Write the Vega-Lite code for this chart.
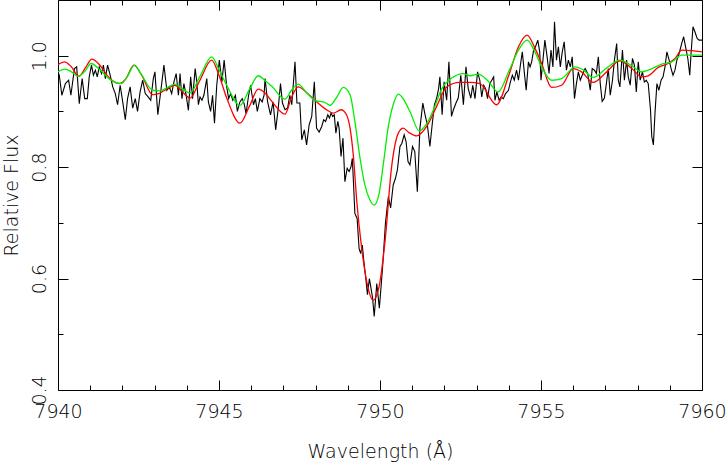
{
  "$schema": "https://vega.github.io/schema/vega-lite/v6.json",
  "width": 644,
  "height": 390,
  "autosize": "none",
  "padding": {"left": 58, "top": 0, "right": 25, "bottom": 72},
  "background": "white",
  "config": {
    "view": {"stroke": "#000", "strokeWidth": 1},
    "axis": {"grid": false, "labelFont": "DejaVu Sans", "labelFontSize": 19, "labelFontWeight": 200, "labelColor": "#000", "titleFont": "DejaVu Sans", "titleFontSize": 19, "titleFontWeight": 200, "titleColor": "#000", "tickColor": "#000", "tickWidth": 1}
  },
  "datasets": {
    "obs": [
      {"w":7940.00,"f":0.970},{"w":7940.04,"f":0.965},{"w":7940.12,"f":0.929},{"w":7940.23,"f":0.950},{"w":7940.33,"f":0.956},{"w":7940.40,"f":0.929},{"w":7940.51,"f":0.977},{"w":7940.58,"f":0.980},{"w":7940.66,"f":0.914},{"w":7940.75,"f":0.959},{"w":7940.83,"f":0.923},{"w":7940.91,"f":0.923},{"w":7940.97,"f":0.962},{"w":7941.04,"f":0.983},{"w":7941.10,"f":0.965},{"w":7941.16,"f":0.974},{"w":7941.22,"f":0.962},{"w":7941.28,"f":0.980},{"w":7941.35,"f":0.968},{"w":7941.41,"f":0.983},{"w":7941.47,"f":0.959},{"w":7941.54,"f":0.983},{"w":7941.62,"f":0.965},{"w":7941.70,"f":0.944},{"w":7941.78,"f":0.932},{"w":7941.85,"f":0.912},{"w":7941.93,"f":0.947},{"w":7942.01,"f":0.917},{"w":7942.09,"f":0.885},{"w":7942.16,"f":0.923},{"w":7942.24,"f":0.944},{"w":7942.32,"f":0.906},{"w":7942.40,"f":0.923},{"w":7942.47,"f":0.900},{"w":7942.55,"f":0.935},{"w":7942.63,"f":0.956},{"w":7942.71,"f":0.932},{"w":7942.80,"f":0.926},{"w":7942.88,"f":0.920},{"w":7942.96,"f":0.959},{"w":7943.01,"f":0.971},{"w":7943.10,"f":0.894},{"w":7943.20,"f":0.940},{"w":7943.29,"f":0.983},{"w":7943.38,"f":0.938},{"w":7943.46,"f":0.944},{"w":7943.53,"f":0.932},{"w":7943.60,"f":0.953},{"w":7943.67,"f":0.968},{"w":7943.74,"f":0.929},{"w":7943.79,"f":0.968},{"w":7943.85,"f":0.923},{"w":7943.91,"f":0.950},{"w":7943.98,"f":0.929},{"w":7944.05,"f":0.902},{"w":7944.12,"f":0.962},{"w":7944.18,"f":0.923},{"w":7944.26,"f":0.977},{"w":7944.31,"f":0.953},{"w":7944.36,"f":0.912},{"w":7944.41,"f":0.926},{"w":7944.47,"f":0.920},{"w":7944.53,"f":0.929},{"w":7944.62,"f":0.959},{"w":7944.67,"f":0.917},{"w":7944.74,"f":0.900},{"w":7944.80,"f":0.929},{"w":7944.86,"f":0.879},{"w":7944.93,"f":0.947},{"w":7945.01,"f":0.992},{"w":7945.09,"f":0.953},{"w":7945.16,"f":0.992},{"w":7945.24,"f":0.944},{"w":7945.30,"f":0.923},{"w":7945.36,"f":0.932},{"w":7945.43,"f":0.920},{"w":7945.51,"f":0.929},{"w":7945.57,"f":0.900},{"w":7945.65,"f":0.917},{"w":7945.72,"f":0.923},{"w":7945.78,"f":0.914},{"w":7945.84,"f":0.896},{"w":7945.92,"f":0.929},{"w":7945.98,"f":0.947},{"w":7946.07,"f":0.912},{"w":7946.13,"f":0.923},{"w":7946.19,"f":0.900},{"w":7946.27,"f":0.923},{"w":7946.34,"f":0.917},{"w":7946.40,"f":0.929},{"w":7946.43,"f":0.959},{"w":7946.51,"f":0.917},{"w":7946.60,"f":0.894},{"w":7946.68,"f":0.917},{"w":7946.76,"f":0.867},{"w":7946.84,"f":0.906},{"w":7946.91,"f":0.950},{"w":7946.97,"f":0.915},{"w":7947.05,"f":0.903},{"w":7947.13,"f":0.906},{"w":7947.20,"f":0.929},{"w":7947.26,"f":0.912},{"w":7947.36,"f":0.989},{"w":7947.42,"f":0.915},{"w":7947.51,"f":0.915},{"w":7947.57,"f":0.849},{"w":7947.65,"f":0.867},{"w":7947.72,"f":0.840},{"w":7947.80,"f":0.876},{"w":7947.88,"f":0.891},{"w":7947.96,"f":0.953},{"w":7948.03,"f":0.870},{"w":7948.11,"f":0.863},{"w":7948.19,"f":0.873},{"w":7948.25,"f":0.885},{"w":7948.31,"f":0.882},{"w":7948.38,"f":0.894},{"w":7948.43,"f":0.888},{"w":7948.48,"f":0.897},{"w":7948.53,"f":0.891},{"w":7948.58,"f":0.894},{"w":7948.63,"f":0.861},{"w":7948.69,"f":0.882},{"w":7948.73,"f":0.870},{"w":7948.79,"f":0.819},{"w":7948.85,"f":0.852},{"w":7948.91,"f":0.774},{"w":7948.98,"f":0.798},{"w":7949.04,"f":0.792},{"w":7949.10,"f":0.801},{"w":7949.14,"f":0.816},{"w":7949.18,"f":0.768},{"w":7949.22,"f":0.717},{"w":7949.29,"f":0.708},{"w":7949.35,"f":0.654},{"w":7949.40,"f":0.645},{"w":7949.45,"f":0.660},{"w":7949.50,"f":0.630},{"w":7949.56,"f":0.600},{"w":7949.61,"f":0.571},{"w":7949.67,"f":0.600},{"w":7949.72,"f":0.583},{"w":7949.77,"f":0.565},{"w":7949.82,"f":0.532},{"w":7949.90,"f":0.591},{"w":7949.98,"f":0.547},{"w":7950.08,"f":0.620},{"w":7950.17,"f":0.700},{"w":7950.26,"f":0.747},{"w":7950.33,"f":0.727},{"w":7950.41,"f":0.768},{"w":7950.48,"f":0.780},{"w":7950.54,"f":0.795},{"w":7950.62,"f":0.837},{"w":7950.68,"f":0.843},{"w":7950.75,"f":0.858},{"w":7950.81,"f":0.846},{"w":7950.87,"f":0.810},{"w":7950.93,"f":0.804},{"w":7951.01,"f":0.837},{"w":7951.08,"f":0.828},{"w":7951.16,"f":0.756},{"w":7951.24,"f":0.870},{"w":7951.33,"f":0.915},{"w":7951.40,"f":0.894},{"w":7951.47,"f":0.876},{"w":7951.55,"f":0.837},{"w":7951.62,"f":0.876},{"w":7951.69,"f":0.912},{"w":7951.76,"f":0.924},{"w":7951.82,"f":0.941},{"w":7951.86,"f":0.962},{"w":7951.93,"f":0.894},{"w":7951.99,"f":0.953},{"w":7952.07,"f":0.920},{"w":7952.14,"f":0.989},{"w":7952.22,"f":0.891},{"w":7952.28,"f":0.903},{"w":7952.36,"f":0.915},{"w":7952.43,"f":0.924},{"w":7952.51,"f":0.965},{"w":7952.59,"f":0.912},{"w":7952.67,"f":0.980},{"w":7952.74,"f":0.941},{"w":7952.82,"f":0.924},{"w":7952.88,"f":0.947},{"w":7952.95,"f":0.923},{"w":7953.03,"f":0.971},{"w":7953.10,"f":0.956},{"w":7953.16,"f":0.926},{"w":7953.22,"f":0.947},{"w":7953.28,"f":0.941},{"w":7953.34,"f":0.923},{"w":7953.41,"f":0.950},{"w":7953.47,"f":0.956},{"w":7953.53,"f":0.962},{"w":7953.57,"f":0.920},{"w":7953.63,"f":0.935},{"w":7953.70,"f":0.920},{"w":7953.76,"f":0.926},{"w":7953.83,"f":0.923},{"w":7953.90,"f":0.932},{"w":7953.99,"f":0.938},{"w":7954.05,"f":0.953},{"w":7954.11,"f":0.965},{"w":7954.17,"f":0.956},{"w":7954.24,"f":0.974},{"w":7954.30,"f":0.956},{"w":7954.36,"f":0.983},{"w":7954.42,"f":1.007},{"w":7954.48,"f":0.971},{"w":7954.54,"f":0.938},{"w":7954.61,"f":0.989},{"w":7954.66,"f":0.980},{"w":7954.71,"f":0.989},{"w":7954.77,"f":1.010},{"w":7954.83,"f":1.016},{"w":7954.90,"f":1.028},{"w":7954.96,"f":1.007},{"w":7955.00,"f":0.956},{"w":7955.06,"f":0.992},{"w":7955.12,"f":1.028},{"w":7955.19,"f":0.998},{"w":7955.25,"f":0.968},{"w":7955.31,"f":1.010},{"w":7955.37,"f":0.980},{"w":7955.42,"f":1.061},{"w":7955.48,"f":0.992},{"w":7955.54,"f":1.016},{"w":7955.60,"f":0.980},{"w":7955.66,"f":1.007},{"w":7955.72,"f":1.025},{"w":7955.79,"f":0.974},{"w":7955.85,"f":0.992},{"w":7955.91,"f":0.980},{"w":7955.97,"f":0.998},{"w":7956.04,"f":0.923},{"w":7956.10,"f":0.950},{"w":7956.16,"f":0.971},{"w":7956.22,"f":0.956},{"w":7956.28,"f":0.965},{"w":7956.37,"f":0.977},{"w":7956.45,"f":0.968},{"w":7956.53,"f":0.938},{"w":7956.59,"f":0.977},{"w":7956.66,"f":0.974},{"w":7956.72,"f":0.968},{"w":7956.78,"f":0.998},{"w":7956.84,"f":0.950},{"w":7956.90,"f":0.918},{"w":7956.97,"f":0.924},{"w":7957.03,"f":0.950},{"w":7957.09,"f":0.977},{"w":7957.15,"f":0.929},{"w":7957.22,"f":0.956},{"w":7957.28,"f":0.992},{"w":7957.35,"f":1.022},{"w":7957.40,"f":0.956},{"w":7957.45,"f":0.944},{"w":7957.53,"f":1.010},{"w":7957.59,"f":0.956},{"w":7957.66,"f":0.992},{"w":7957.71,"f":0.962},{"w":7957.77,"f":0.947},{"w":7957.84,"f":0.995},{"w":7957.90,"f":0.983},{"w":7957.96,"f":0.935},{"w":7958.02,"f":0.989},{"w":7958.08,"f":0.956},{"w":7958.15,"f":0.971},{"w":7958.21,"f":0.953},{"w":7958.27,"f":0.956},{"w":7958.33,"f":0.950},{"w":7958.40,"f":0.903},{"w":7958.44,"f":0.855},{"w":7958.49,"f":0.840},{"w":7958.54,"f":0.897},{"w":7958.60,"f":0.950},{"w":7958.66,"f":0.938},{"w":7958.73,"f":0.956},{"w":7958.79,"f":0.962},{"w":7958.85,"f":0.980},{"w":7958.91,"f":1.007},{"w":7958.98,"f":0.992},{"w":7959.04,"f":0.977},{"w":7959.10,"f":0.965},{"w":7959.16,"f":0.974},{"w":7959.22,"f":0.992},{"w":7959.29,"f":1.004},{"w":7959.37,"f":1.022},{"w":7959.43,"f":1.034},{"w":7959.49,"f":1.016},{"w":7959.56,"f":0.995},{"w":7959.62,"f":0.965},{"w":7959.66,"f":1.004},{"w":7959.72,"f":1.052},{"w":7959.78,"f":1.043},{"w":7959.85,"f":1.031},{"w":7959.91,"f":1.028},{"w":7960.00,"f":1.028}
    ],
    "red": [
      {"w":7940.00,"f":0.984},{"w":7940.20,"f":0.989},{"w":7940.40,"f":0.981},{"w":7940.65,"f":0.963},{"w":7940.85,"f":0.978},{"w":7941.05,"f":0.994},{"w":7941.30,"f":0.983},{"w":7941.55,"f":0.963},{"w":7941.90,"f":0.950},{"w":7942.10,"f":0.958},{"w":7942.36,"f":0.983},{"w":7942.60,"f":0.965},{"w":7942.94,"f":0.930},{"w":7943.17,"f":0.933},{"w":7943.40,"f":0.941},{"w":7943.63,"f":0.947},{"w":7943.85,"f":0.936},{"w":7944.10,"f":0.924},{"w":7944.40,"f":0.955},{"w":7944.77,"f":0.992},{"w":7945.00,"f":0.965},{"w":7945.24,"f":0.924},{"w":7945.65,"f":0.879},{"w":7945.95,"f":0.910},{"w":7946.22,"f":0.940},{"w":7946.43,"f":0.933},{"w":7946.64,"f":0.918},{"w":7947.05,"f":0.895},{"w":7947.25,"f":0.925},{"w":7947.46,"f":0.944},{"w":7947.70,"f":0.935},{"w":7947.98,"f":0.920},{"w":7948.34,"f":0.903},{"w":7948.55,"f":0.897},{"w":7948.79,"f":0.903},{"w":7948.95,"f":0.895},{"w":7949.07,"f":0.870},{"w":7949.17,"f":0.822},{"w":7949.28,"f":0.738},{"w":7949.43,"f":0.655},{"w":7949.59,"f":0.594},{"w":7949.79,"f":0.561},{"w":7949.97,"f":0.585},{"w":7950.16,"f":0.669},{"w":7950.36,"f":0.800},{"w":7950.57,"f":0.861},{"w":7950.72,"f":0.870},{"w":7950.90,"f":0.862},{"w":7951.14,"f":0.856},{"w":7951.45,"f":0.873},{"w":7951.76,"f":0.909},{"w":7952.07,"f":0.944},{"w":7952.48,"f":0.952},{"w":7952.80,"f":0.952},{"w":7953.10,"f":0.950},{"w":7953.62,"f":0.912},{"w":7954.00,"f":0.965},{"w":7954.30,"f":1.016},{"w":7954.57,"f":1.037},{"w":7954.80,"f":1.015},{"w":7955.02,"f":0.986},{"w":7955.33,"f":0.943},{"w":7955.64,"f":0.947},{"w":7956.00,"f":0.977},{"w":7956.26,"f":0.971},{"w":7956.62,"f":0.952},{"w":7957.04,"f":0.971},{"w":7957.45,"f":0.991},{"w":7957.82,"f":0.977},{"w":7958.13,"f":0.962},{"w":7958.33,"f":0.964},{"w":7958.64,"f":0.979},{"w":7958.95,"f":0.986},{"w":7959.16,"f":0.995},{"w":7959.37,"f":1.010},{"w":7959.68,"f":1.009},{"w":7960.00,"f":1.007}
    ],
    "green": [
      {"w":7940.00,"f":0.971},{"w":7940.20,"f":0.976},{"w":7940.40,"f":0.972},{"w":7940.62,"f":0.963},{"w":7940.85,"f":0.973},{"w":7941.02,"f":0.986},{"w":7941.30,"f":0.975},{"w":7941.60,"f":0.958},{"w":7941.96,"f":0.950},{"w":7942.15,"f":0.962},{"w":7942.37,"f":0.983},{"w":7942.60,"f":0.965},{"w":7942.94,"f":0.938},{"w":7943.17,"f":0.937},{"w":7943.40,"f":0.943},{"w":7943.63,"f":0.949},{"w":7943.85,"f":0.941},{"w":7944.10,"f":0.933},{"w":7944.40,"f":0.962},{"w":7944.77,"f":0.998},{"w":7945.00,"f":0.975},{"w":7945.24,"f":0.947},{"w":7945.65,"f":0.911},{"w":7945.95,"f":0.940},{"w":7946.22,"f":0.964},{"w":7946.43,"f":0.955},{"w":7946.64,"f":0.945},{"w":7947.05,"f":0.922},{"w":7947.25,"f":0.938},{"w":7947.46,"f":0.949},{"w":7947.70,"f":0.935},{"w":7947.98,"f":0.920},{"w":7948.29,"f":0.916},{"w":7948.45,"f":0.911},{"w":7948.65,"f":0.925},{"w":7948.86,"f":0.943},{"w":7949.07,"f":0.930},{"w":7949.22,"f":0.882},{"w":7949.38,"f":0.816},{"w":7949.53,"f":0.768},{"w":7949.68,"f":0.742},{"w":7949.82,"f":0.732},{"w":7949.97,"f":0.752},{"w":7950.10,"f":0.804},{"w":7950.25,"f":0.870},{"w":7950.41,"f":0.912},{"w":7950.57,"f":0.931},{"w":7950.75,"f":0.920},{"w":7950.93,"f":0.900},{"w":7951.22,"f":0.865},{"w":7951.45,"f":0.878},{"w":7951.66,"f":0.903},{"w":7951.92,"f":0.941},{"w":7952.23,"f":0.960},{"w":7952.59,"f":0.968},{"w":7952.80,"f":0.964},{"w":7953.05,"f":0.967},{"w":7953.35,"f":0.955},{"w":7953.67,"f":0.935},{"w":7954.00,"f":0.972},{"w":7954.30,"f":1.010},{"w":7954.57,"f":1.028},{"w":7954.80,"f":1.008},{"w":7955.02,"f":0.980},{"w":7955.33,"f":0.956},{"w":7955.64,"f":0.959},{"w":7956.06,"f":0.980},{"w":7956.30,"f":0.975},{"w":7956.62,"f":0.961},{"w":7957.04,"f":0.978},{"w":7957.45,"f":0.992},{"w":7957.82,"f":0.982},{"w":7958.13,"f":0.971},{"w":7958.33,"f":0.974},{"w":7958.75,"f":0.985},{"w":7959.06,"f":0.989},{"w":7959.37,"f":1.001},{"w":7959.68,"f":1.001},{"w":7960.00,"f":1.001}
    ]
  },
  "resolve": {"axis": {"x": "independent", "y": "independent"}},
  "layer": [
    {
      "data": {"name": "obs"},
      "mark": {"type": "line", "color": "#000000", "strokeWidth": 1.1, "clip": true},
      "encoding": {
        "x": {"field": "w", "type": "quantitative", "scale": {"domain": [7940, 7960], "nice": false, "zero": false},
          "axis": {"orient": "bottom", "values": [7940, 7945, 7950, 7955, 7960], "format": "d", "ticks": false, "domain": false, "labelPadding": 27, "labelBaseline": "alphabetic", "labelAlign": "center", "labelFlush": false, "labelOverlap": false, "title": "Wavelength (Å)", "titleX": 322, "titleY": 67, "titleAlign": "center", "titleBaseline": "alphabetic", "titleAngle": 0}},
        "y": {"field": "f", "type": "quantitative", "scale": {"domain": [0.4, 1.1], "nice": false, "zero": false},
          "axis": {"orient": "left", "values": [0.4, 0.6, 0.8, 1.0], "format": ".1f", "ticks": false, "domain": false, "labelAngle": -90, "labelAlign": "center", "labelBaseline": "alphabetic", "labelPadding": 13, "labelFlush": false, "labelOverlap": false, "title": "Relative Flux", "titleX": -41, "titleY": 195, "titleAngle": -90, "titleAlign": "center", "titleBaseline": "alphabetic"}}
      }
    },
    {
      "data": {"name": "red"},
      "mark": {"type": "line", "color": "#ff0000", "strokeWidth": 1.3, "interpolate": "monotone", "clip": true},
      "encoding": {
        "x": {"field": "w", "type": "quantitative", "scale": {"domain": [7940, 7960], "nice": false, "zero": false},
          "axis": {"orient": "bottom", "values": [7940, 7945, 7950, 7955, 7960], "labels": false, "domain": false, "tickSize": -10, "title": null}},
        "y": {"field": "f", "type": "quantitative", "scale": {"domain": [0.4, 1.1], "nice": false, "zero": false},
          "axis": {"orient": "left", "values": [0.4, 0.6, 0.8, 1.0], "labels": false, "domain": false, "tickSize": -10, "title": null}}
      }
    },
    {
      "data": {"name": "green"},
      "mark": {"type": "line", "color": "#00ee00", "strokeWidth": 1.3, "interpolate": "monotone", "clip": true},
      "encoding": {
        "x": {"field": "w", "type": "quantitative", "scale": {"domain": [7940, 7960], "nice": false, "zero": false},
          "axis": {"orient": "bottom", "values": [7941, 7942, 7943, 7944, 7946, 7947, 7948, 7949, 7951, 7952, 7953, 7954, 7956, 7957, 7958, 7959], "labels": false, "domain": false, "tickSize": -5, "title": null}},
        "y": {"field": "f", "type": "quantitative", "scale": {"domain": [0.4, 1.1], "nice": false, "zero": false},
          "axis": {"orient": "left", "values": [0.5, 0.7, 0.9], "labels": false, "domain": false, "tickSize": -5, "title": null}}
      }
    },
    {
      "data": {"name": "green"},
      "mark": {"type": "line", "opacity": 0, "clip": true},
      "encoding": {
        "x": {"field": "w", "type": "quantitative", "scale": {"domain": [7940, 7960], "nice": false, "zero": false},
          "axis": {"orient": "top", "values": [7940, 7945, 7950, 7955, 7960], "labels": false, "domain": false, "tickSize": -10, "title": null}},
        "y": {"field": "f", "type": "quantitative", "scale": {"domain": [0.4, 1.1], "nice": false, "zero": false},
          "axis": {"orient": "right", "values": [0.4, 0.6, 0.8, 1.0], "labels": false, "domain": false, "tickSize": -10, "title": null}}
      }
    },
    {
      "data": {"name": "green"},
      "mark": {"type": "line", "opacity": 0, "clip": true},
      "encoding": {
        "x": {"field": "w", "type": "quantitative", "scale": {"domain": [7940, 7960], "nice": false, "zero": false},
          "axis": {"orient": "top", "values": [7941, 7942, 7943, 7944, 7946, 7947, 7948, 7949, 7951, 7952, 7953, 7954, 7956, 7957, 7958, 7959], "labels": false, "domain": false, "tickSize": -5, "title": null}},
        "y": {"field": "f", "type": "quantitative", "scale": {"domain": [0.4, 1.1], "nice": false, "zero": false},
          "axis": {"orient": "right", "values": [0.5, 0.7, 0.9], "labels": false, "domain": false, "tickSize": -5, "title": null}}
      }
    }
  ]
}
